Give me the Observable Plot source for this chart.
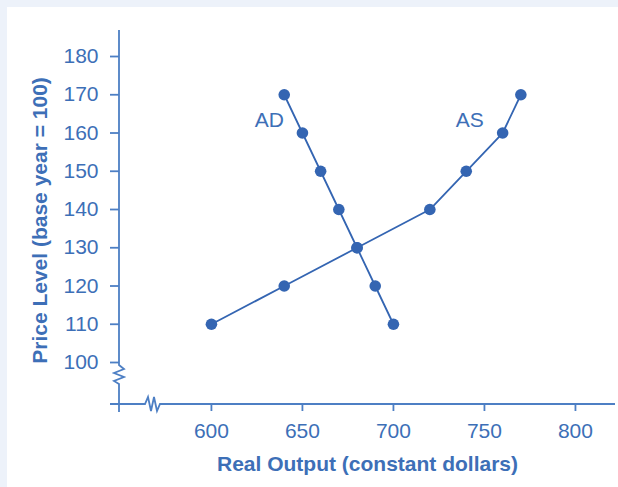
<!DOCTYPE html>
<html>
<head>
<meta charset="utf-8">
<script src="https://cdn.jsdelivr.net/npm/d3@7"></script>
<script src="https://cdn.jsdelivr.net/npm/@observablehq/plot@0.6"></script>
<style>
  html, body { margin: 0; padding: 0; background: #edf2fa; width: 618px; height: 487px; overflow: hidden; }
  #panel { position: absolute; left: 7px; top: 7px; width: 611px; height: 480px; background: #ffffff; }
  #chart { position: absolute; left: 0; top: 0; }
  #chart svg { background: transparent; }
</style>
</head>
<body>
<div id="panel"></div>
<div id="chart"></div>
<script>
// ---- data ----
const adOutput = [640, 650, 660, 670, 680, 690, 700];
const adPrice  = [170, 160, 150, 140, 130, 120, 110];
const asOutput = [600, 640, 680, 720, 740, 760, 770];
const asPrice  = [110, 120, 130, 140, 150, 160, 170];
const curveNames = ["AD", "AS"];
const xTicks = [600, 650, 700, 750, 800];
const yTicks = [100, 110, 120, 130, 140, 150, 160, 170, 180];
const xTitle = "Real Output (constant dollars)";
const yTitle = "Price Level (base year = 100)";

// ---- build tables ----
const ad = adOutput.map((x, i) => ({curve: curveNames[0], x, y: adPrice[i]}));
const as = asOutput.map((x, i) => ({curve: curveNames[1], x, y: asPrice[i]}));
const points = ad.concat(as);
const labelPts = [ad[1], as[5]];

const blue = "#3465b2";
const textBlue = "#3d6fb7";
const axisBlue = "#4d7fc4";
const xDomain = [549.5, 822];
const yDomain = [89.02, 186.8];

function axisLines(index, scales) {
  const {x, y} = scales;
  const x0 = x(xDomain[0]);
  const x1 = x(xDomain[1]);
  const yb = y(yDomain[0]);
  const yt = y(yDomain[1]);
  const yBrk = y(yTicks[0]) + 3;
  const g = d3.create("svg:g")
    .attr("fill", "none")
    .attr("stroke", axisBlue)
    .attr("stroke-width", 1.8)
    .attr("stroke-linejoin", "miter");
  // vertical axis with break
  g.append("path").attr("d",
    `M${x0},${yt} V${yBrk} l5,4 l-10,4 l10,4 l-10,4 l5,3 V${yb + 8}`);
  // horizontal axis with break
  const xBrk = x0 + 26;
  g.append("path").attr("d",
    `M${x0 - 9},${yb} H${xBrk} l3,-7 l3,14 l3,-14 l3,14 l3,-7 H${x1}`);
  return g.node();
}

const chart = Plot.plot({
  width: 618,
  height: 487,
  marginLeft: 119,
  marginRight: 3,
  marginTop: 30,
  marginBottom: 83,
  style: {background: "transparent", fontFamily: "'Liberation Sans', Arial, sans-serif", color: textBlue},
  x: {domain: xDomain},
  y: {domain: yDomain},
  marks: [
    Plot.axisY({ticks: yTicks, tickSize: 9, tickPadding: 12, fontSize: 21, label: null, stroke: axisBlue, strokeWidth: 1.8, fill: textBlue}),
    Plot.axisX({ticks: xTicks, tickSize: 7, tickPadding: 12, fontSize: 21, label: null, stroke: axisBlue, strokeWidth: 1.8, fill: textBlue}),
    axisLines,
    Plot.line(points, {x: "x", y: "y", z: "curve", stroke: blue, strokeWidth: 1.8}),
    Plot.dot(points, {x: "x", y: "y", r: 5.8, fill: blue, stroke: "none"}),
    Plot.text(labelPts, {x: "x", y: "y", text: "curve", dx: -33, dy: -13, fontSize: 21, fill: textBlue}),
    Plot.text([xTitle], {frameAnchor: "bottom", dy: 66, fontSize: 21, fontWeight: "bold", fill: textBlue}),
    Plot.text([yTitle], {frameAnchor: "left", textAnchor: "middle", dx: -79, dy: 3, rotate: -90, fontSize: 21, fontWeight: "bold", fill: textBlue})
  ]
});
document.getElementById("chart").appendChild(chart);
</script>
</body>
</html>
